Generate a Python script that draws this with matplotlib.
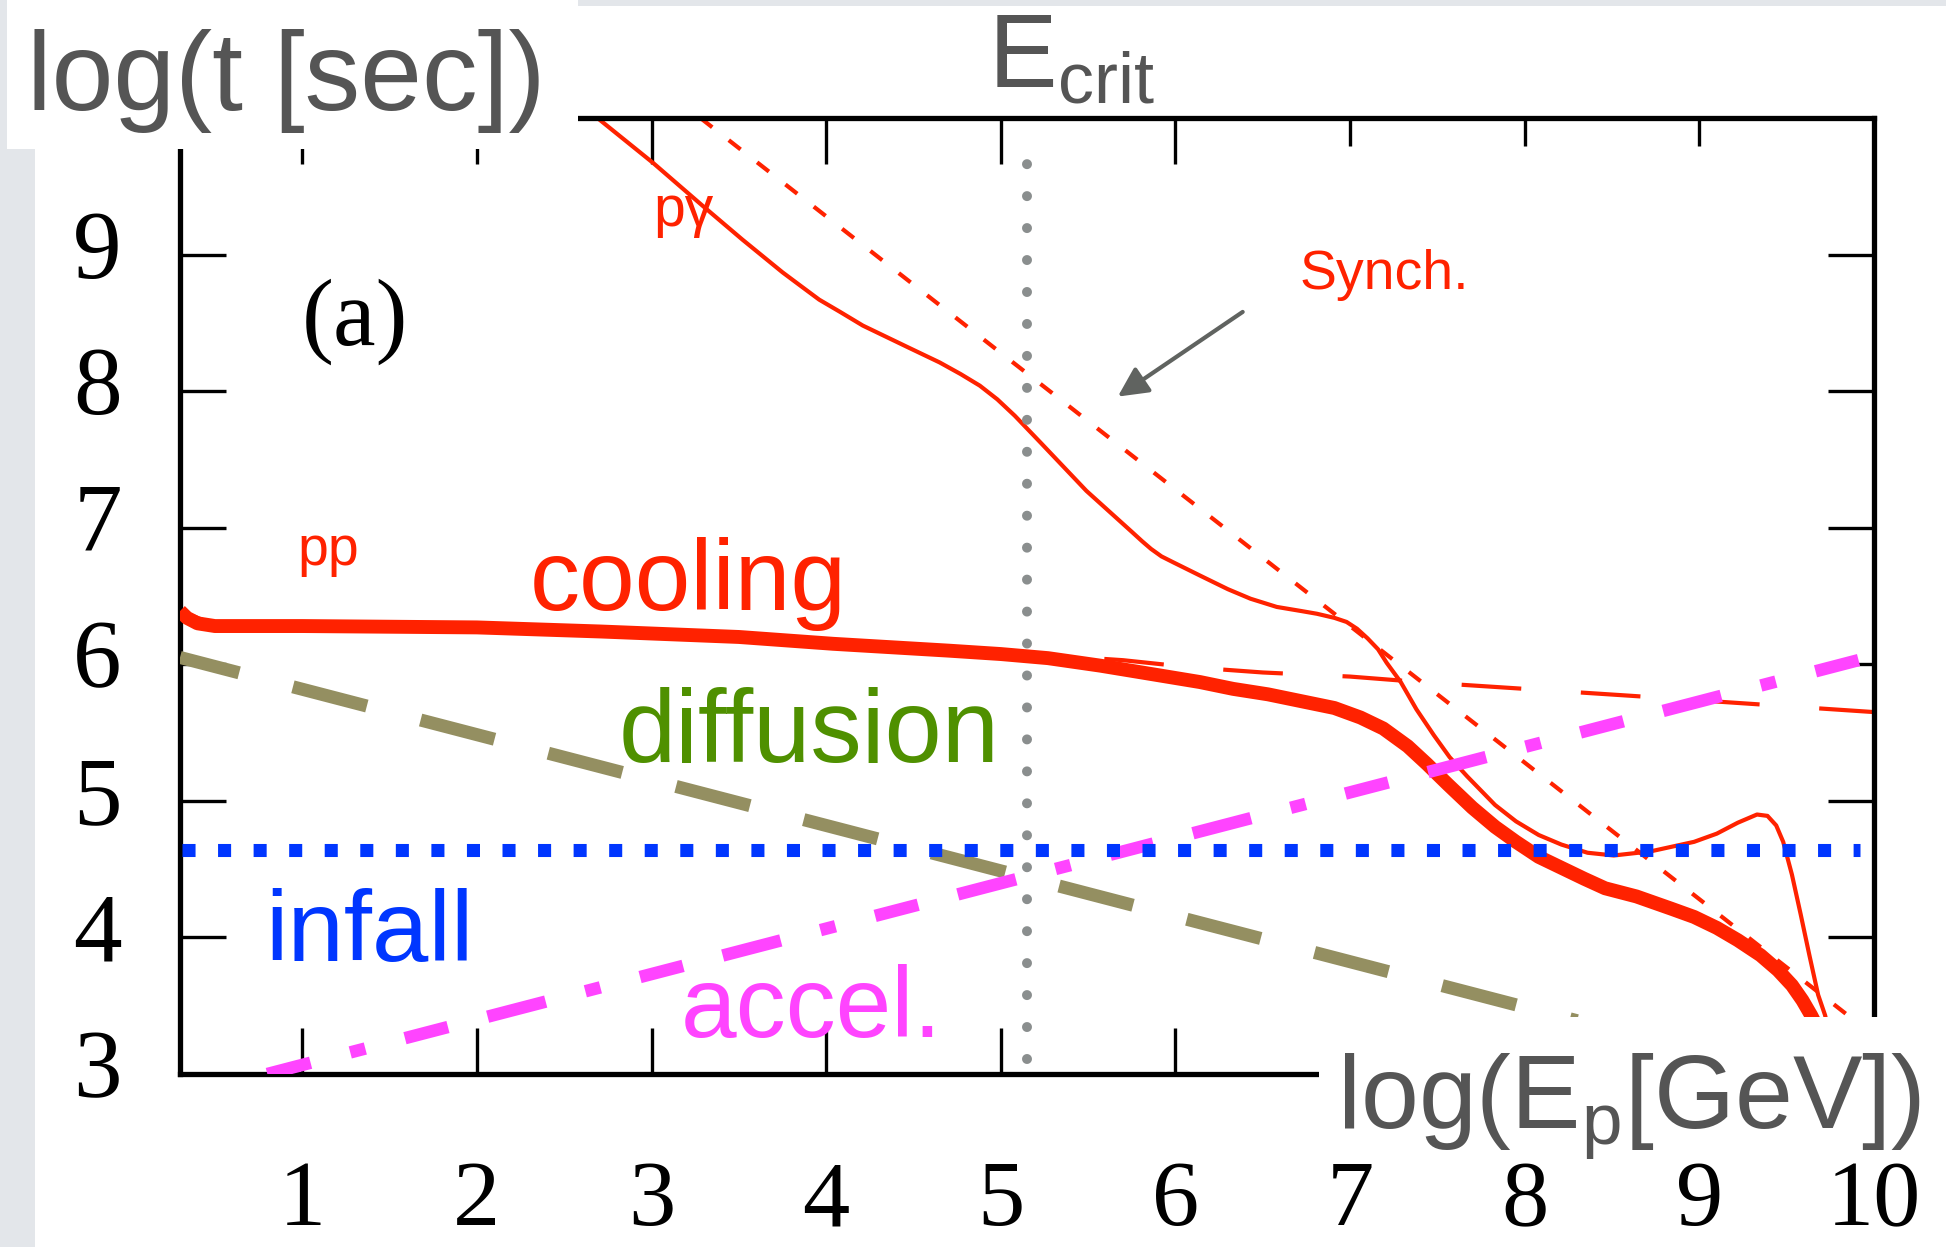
import matplotlib
matplotlib.use("Agg")
import matplotlib.pyplot as plt
from matplotlib.patches import Rectangle

W, H = 1946, 1247

# ---- values (log E_p [GeV] vs log t [sec]) ----
# total cooling time (thick red)
cool_x = [0.30, 0.34, 0.40, 0.50, 1.00, 2.00, 2.71, 3.50, 4.04, 4.70, 5.00,
          5.27, 5.57, 5.76, 5.95, 6.14, 6.33, 6.53, 6.72, 6.91, 7.06, 7.19,
          7.33, 7.44, 7.56, 7.70, 7.83, 7.95, 8.08, 8.21, 8.34, 8.46, 8.64,
          8.84, 8.97, 9.10, 9.22, 9.35, 9.45, 9.53, 9.59, 9.64, 9.70]
cool_y = [6.39, 6.34, 6.30, 6.28, 6.28, 6.27, 6.24, 6.20, 6.15, 6.10, 6.075,
          6.045, 5.99, 5.95, 5.91, 5.87, 5.82, 5.78, 5.73, 5.68, 5.61, 5.53,
          5.40, 5.27, 5.12, 4.95, 4.81, 4.70, 4.59, 4.51, 4.43, 4.36, 4.30,
          4.21, 4.15, 4.07, 3.98, 3.87, 3.76, 3.65, 3.54, 3.43, 3.28]

# p-gamma cooling (thin red)
pg_x = [2.65, 2.70, 3.01, 3.29, 3.52, 3.75, 3.86, 3.96, 4.08, 4.21, 4.34,
        4.47, 4.65, 4.77, 4.88, 4.98, 5.08, 5.23, 5.49, 5.75, 5.81, 5.86,
        5.92, 5.99, 6.14, 6.30, 6.43, 6.58, 6.72, 6.81, 6.91, 6.98, 7.04,
        7.10, 7.16, 7.21, 7.29, 7.38, 7.48, 7.57, 7.67, 7.83, 7.95, 8.08,
        8.21, 8.36, 8.51, 8.72, 8.97, 9.10, 9.22, 9.33, 9.39, 9.44, 9.48,
        9.53, 9.58, 9.63, 9.68, 9.72, 9.76]
pg_y = [10.05, 9.99, 9.67, 9.36, 9.11, 8.87, 8.765, 8.67, 8.58, 8.48, 8.40,
        8.32, 8.21, 8.125, 8.04, 7.94, 7.82, 7.62, 7.27, 6.97, 6.90, 6.845,
        6.79, 6.745, 6.65, 6.55, 6.48, 6.42, 6.39, 6.37, 6.34, 6.31, 6.26,
        6.19, 6.11, 6.01, 5.87, 5.67, 5.48, 5.32, 5.18, 4.97, 4.85, 4.75,
        4.68, 4.62, 4.60, 4.63, 4.70, 4.76, 4.84, 4.90, 4.89, 4.82, 4.70,
        4.46, 4.17, 3.87, 3.58, 3.43, 3.20]

# pp cooling (long dashed red)
pp_x = [0.30, 0.50, 1.00, 2.00, 3.00, 4.00, 5.00, 5.70, 6.07, 6.50, 7.00,
        7.40, 8.00, 8.60, 9.30, 10.0]
pp_y = [6.39, 6.29, 6.29, 6.28, 6.23, 6.16, 6.09, 6.03, 5.98, 5.94, 5.91,
        5.87, 5.82, 5.77, 5.71, 5.65]

# synchrotron cooling (short dashed red)
syn_x = [3.28, 9.85]
syn_y = [10.0, 3.43]

# diffusion, acceleration, infall
diff_x = [0.30, 8.30]
diff_y = [6.05, 3.39]
acc_x = [0.80, 10.0]
acc_y = [3.00, 6.06]
inf_x = [0.31, 9.92]
inf_y = [4.64, 4.64]

# critical energy
ecrit_x = [5.15, 5.15]
ecrit_y = [3.11, 9.68]

xticks_major = [1, 2, 3, 4, 5, 6, 10]
xticks_minor = [7, 8, 9]
yticks = [3, 4, 5, 6, 7, 8, 9]

RED = "#ff2200"
OLIVE = "#948f61"
GREEN = "#4f9000"
BLUE = "#0036ff"
MAGENTA = "#ff44ff"
DOTGRAY = "#8a8e8e"
TXTGRAY = "#555555"
BG = "#e3e6ea"

plt.rcParams["lines.scale_dashes"] = False
plt.rcParams["mathtext.fontset"] = "custom"
plt.rcParams["mathtext.rm"] = "Liberation Sans"
plt.rcParams["mathtext.it"] = "Liberation Sans:italic"

fig = plt.figure(figsize=(W / 100, H / 100), dpi=100)
fig.patch.set_facecolor("white")


def px_rect(x0, y0, x1, y1, color, z):
    # rectangle given in picture pixels (top-left origin)
    r = Rectangle((x0 / W, 1 - y1 / H), (x1 - x0) / W, (y1 - y0) / H,
                  transform=fig.transFigure, facecolor=color,
                  edgecolor="none", zorder=z)
    fig.add_artist(r)


# slide background strips
px_rect(0, 149, 35, H, BG, -1)
px_rect(0, 0, 7, 149, BG, -1)
px_rect(578, 0, W, 6, BG, -1)

ax = fig.add_axes([180 / W, 1 - 1074 / H, 1694 / W, 956 / H])

# curves
ax.plot(pp_x, pp_y, color=RED, lw=3, linestyle=(20, (43, 43)), zorder=2)
ax.plot(syn_x, syn_y, color=RED, lw=3, linestyle=(0, (10.8, 15.1)),
        dash_capstyle="butt", zorder=2)
ax.plot(pg_x, pg_y, color=RED, lw=3, solid_joinstyle="round", zorder=2)
ax.plot(cool_x, cool_y, color=RED, lw=10, solid_capstyle="butt",
        solid_joinstyle="round", zorder=3)
ax.plot(diff_x, diff_y, color=OLIVE, lw=9.4, linestyle=(11, (55, 40)),
        dash_capstyle="butt", zorder=4)
ax.plot(acc_x, acc_y, color=MAGENTA, lw=9,
        linestyle=(11, (43.2, 29.5, 11.2, 29.5, 32, 29.5)),
        dash_capstyle="butt", zorder=4)
ax.plot(inf_x, inf_y, color=BLUE, lw=9.4, linestyle=(0, (9.4, 16.2)),
        dash_capstyle="butt", zorder=5)
ax.plot(ecrit_x, ecrit_y, color=DOTGRAY, lw=7.2, linestyle=(0, (0.01, 23)),
        dash_capstyle="round", zorder=6)

# arrow to the synchrotron line
ax.annotate("", xy=(5.67, 7.96), xytext=(6.385, 8.58),
            arrowprops=dict(arrowstyle="-|>", color="#606360", lw=3,
                            mutation_scale=45, shrinkA=0, shrinkB=0),
            zorder=6)

# curve labels
sans = "Liberation Sans"
ax.text(2.30, 6.397, "cooling", color=RED, fontsize=72, family=sans,
        ha="left", va="baseline", zorder=7)
ax.text(2.81, 5.284, "diffusion", color=GREEN, fontsize=74, family=sans,
        ha="left", va="baseline", zorder=7)
ax.text(0.79, 3.827, "infall", color=BLUE, fontsize=73, family=sans,
        ha="left", va="baseline", zorder=7)
ax.text(3.17, 3.271, "accel.", color=MAGENTA, fontsize=72, family=sans,
        ha="left", va="baseline", zorder=7)
ax.text(0.97, 6.73, "pp", color=RED, fontsize=40, family=sans,
        ha="left", va="baseline", zorder=7)
ax.text(3.01, 9.21, "pγ", color=RED, fontsize=41, family=sans,
        ha="left", va="baseline", zorder=7)
ax.text(6.71, 8.75, "Synch.", color=RED, fontsize=40, family=sans,
        ha="left", va="baseline", zorder=7)
ax.text(1.0, 8.34, "(a)", color="black", fontsize=69,
        family="Liberation Serif", ha="left", va="baseline", zorder=7)

# axes frame and ticks
ax.set_xlim(0.3, 10.0)
ax.set_ylim(3, 10)
ax.set_xticks(xticks_major)
ax.set_xticklabels([str(v) for v in xticks_major])
ax.set_xticks(xticks_minor, minor=True)
ax.set_xticklabels([str(v) for v in xticks_minor], minor=True)
ax.set_yticks(yticks)
ax.set_yticklabels([str(v) for v in yticks])
for s in ax.spines.values():
    s.set_linewidth(3.8)
ax.tick_params(axis="both", which="both", direction="in", top=True,
               right=True, width=2.4, colors="black")
ax.tick_params(axis="both", which="major", length=33)
ax.tick_params(axis="x", which="minor", length=20)
ax.tick_params(axis="x", which="both", pad=62, labelsize=68)
ax.tick_params(axis="y", which="major", pad=42, labelsize=70)
for lab in ax.get_xticklabels(which="both"):
    lab.set_family("Liberation Serif")
for lab in ax.get_yticklabels():
    lab.set_family("Liberation Serif")
    lab.set_verticalalignment("center")

# white label boxes over the frame
px_rect(7, 0, 578, 149, "white", 5)
px_rect(1319, 1017, W, 1160, "white", 5)

fig.text(27 / W, 1 - 110 / H, "log(t [sec])", color=TXTGRAY, fontsize=80,
         family=sans, ha="left", va="baseline", zorder=6)
fig.text(988 / W, 1 - 87 / H, r"E$_\mathrm{crit}$", color=TXTGRAY,
         fontsize=74, family=sans, ha="left", va="baseline", zorder=6)
fig.text(1337 / W, 1 - 1128 / H, r"log(E$_\mathrm{p}$[GeV])", color=TXTGRAY,
         fontsize=75, family=sans, ha="left", va="baseline", zorder=6)

fig.savefig("out.png", dpi=100, facecolor="white")
